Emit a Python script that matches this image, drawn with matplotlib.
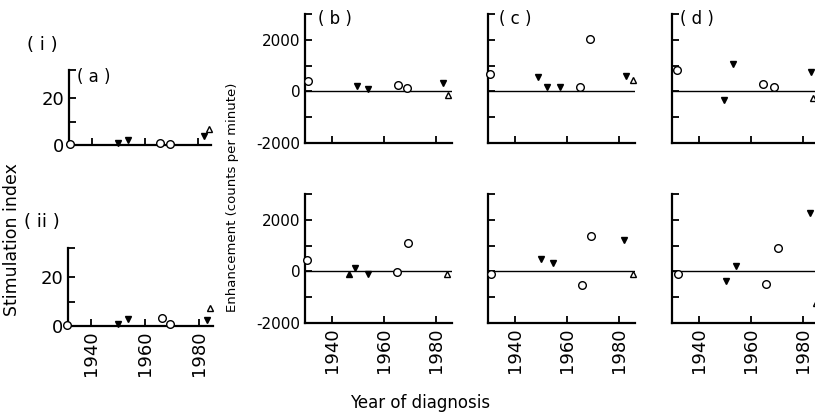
# Stimulation index and enhancement against year of diagnosis
# panels (a)/(ii) on the left, (b)-(d) in two rows

import matplotlib
matplotlib.use("Agg")
import matplotlib.pyplot as plt

# Step 1: values, one set of lists per panel
# kind: 'o' open circle, 'v' filled down triangle, '^' open up triangle, 'A' filled up triangle
a_year = [1931.5, 1949.8, 1953.6, 1965.7, 1969.4, 1982.3, 1984.2]
a_val = [0.4, 1.0, 2.0, 1.0, 0.5, 3.8, 6.8]
a_kind = ['o', 'v', 'v', 'o', 'o', 'v', '^']

ii_year = [1931.0, 1949.8, 1953.6, 1966.0, 1969.2, 1982.6, 1983.9]
ii_val = [0.4, 0.8, 3.0, 3.2, 0.9, 2.4, 7.2]
ii_kind = ['o', 'v', 'v', 'o', 'o', 'v', '^']

b1_year = [1930.8, 1949.6, 1953.8, 1965.4, 1968.8, 1982.7, 1984.6]
b1_val = [390, 190, 100, 230, 150, 330, -150]
b1_kind = ['o', 'v', 'v', 'o', 'o', 'v', '^']

c1_year = [1930.2, 1948.6, 1952.2, 1957.3, 1964.7, 1968.6, 1982.4, 1985.3]
c1_val = [670, 550, 160, 160, 160, 2040, 590, 430]
c1_kind = ['o', 'v', 'v', 'v', 'o', 'o', 'v', '^']

d1_year = [1931.5, 1949.6, 1953.0, 1964.6, 1968.8, 1983.1, 1983.8]
d1_val = [820, -350, 1060, 270, 160, 750, -270]
d1_kind = ['o', 'v', 'v', 'o', 'o', 'v', '^']

b2_year = [1930.4, 1946.6, 1948.9, 1953.9, 1965.0, 1969.2, 1984.2]
b2_val = [460, -115, 115, -115, -40, 1110, -115]
b2_kind = ['o', 'A', 'v', 'v', 'o', 'o', '^']

c2_year = [1930.6, 1949.8, 1954.5, 1965.5, 1969.0, 1981.6, 1985.3]
c2_val = [-120, 470, 310, -510, 1370, 1220, -120]
c2_kind = ['o', 'v', 'v', 'o', 'o', 'v', '^']

d2_year = [1931.8, 1950.2, 1954.1, 1965.7, 1970.4, 1982.5, 1984.9]
d2_val = [-120, -390, 200, -470, 900, 2270, -1220]
d2_kind = ['o', 'v', 'v', 'o', 'o', 'v', '^']

year_ticks = [1940, 1960, 1980]
year_labels = ['1940', '1960', '1980']

# marker kind -> (marker, face colour)
styles = {'o': ('o', 'white'), 'v': ('v', 'black'), '^': ('^', 'white'), 'A': ('^', 'black')}

W, H = 815, 417
fig = plt.figure(figsize=(W / 100, H / 100), dpi=100)


def make_axes(left, top, right, bottom):
    # pixel box -> figure fractions
    return fig.add_axes([left / W, 1 - bottom / H, (right - left) / W, (bottom - top) / H])


def draw_points(ax, years, vals, kinds):
    for k, (m, fc) in styles.items():
        xs = [y for y, kk in zip(years, kinds) if kk == k]
        vs = [v for v, kk in zip(vals, kinds) if kk == k]
        if xs:
            ax.plot(xs, vs, linestyle='none', marker=m, markersize=5.5 if m == 'o' else 5,
                    markerfacecolor=fc, markeredgecolor='black', markeredgewidth=1,
                    clip_on=False, zorder=3)


def style_axes(ax, show_x):
    for s in ['top', 'right']:
        ax.spines[s].set_visible(False)
    for s in ['left', 'bottom']:
        ax.spines[s].set_linewidth(1.6)
    ax.tick_params(which='both', direction='in', length=5, width=1.3)
    ax.set_xticks(year_ticks)
    if show_x:
        ax.set_xticklabels(year_labels, rotation=90, fontsize=13)
    else:
        ax.set_xticklabels([])


# Step 2: stimulation index panels
si_panels = [(a_year, a_val, a_kind, (69, 70, 211, 145), False),
             (ii_year, ii_val, ii_kind, (68, 248, 213, 326), True)]
for years, vals, kinds, box, show_x in si_panels:
    ax = make_axes(*box)
    draw_points(ax, years, vals, kinds)
    ax.set_xlim(1931.3, 1985)
    ax.set_ylim(0, 32)
    ax.set_yticks([0, 20])
    ax.set_yticklabels(['0', '20'], fontsize=13)
    ax.set_yticks([10, 32], minor=True)
    style_axes(ax, show_x)

# Step 3: enhancement panels
enh_panels = [(b1_year, b1_val, b1_kind, (305, 14, 452, 143), True, False),
              (c1_year, c1_val, c1_kind, (488, 14, 635, 143), False, False),
              (d1_year, d1_val, d1_kind, (672, 14, 819, 143), False, False),
              (b2_year, b2_val, b2_kind, (305, 194, 452, 323), True, True),
              (c2_year, c2_val, c2_kind, (488, 194, 635, 323), False, True),
              (d2_year, d2_val, d2_kind, (672, 194, 819, 323), False, True)]
for years, vals, kinds, box, show_y, show_x in enh_panels:
    ax = make_axes(*box)
    ax.axhline(0, color='black', linewidth=1)
    draw_points(ax, years, vals, kinds)
    ax.set_xlim(1929.5, 1986)
    ax.set_ylim(-2000, 3000)
    ax.set_yticks([-2000, 0, 2000])
    ax.set_yticks([-1000, 1000, 3000], minor=True)
    if show_y:
        ax.set_yticklabels(['-2000', '0', '2000'], fontsize=11)
    else:
        ax.set_yticklabels([])
    style_axes(ax, show_x)

# Step 4: panel letters and axis titles
fig.text(42 / W, 1 - 45 / H, '( i )', fontsize=13, ha='center', va='center')
fig.text(42 / W, 1 - 222 / H, '( ii )', fontsize=13, ha='center', va='center')
fig.text(77 / W, 1 - 77 / H, '( a )', fontsize=12, ha='left', va='center')
fig.text(318 / W, 1 - 19 / H, '( b )', fontsize=12, ha='left', va='center')
fig.text(499 / W, 1 - 19 / H, '( c )', fontsize=12, ha='left', va='center')
fig.text(680 / W, 1 - 19 / H, '( d )', fontsize=12, ha='left', va='center')

fig.text(12 / W, 1 - 240 / H, 'Stimulation index', rotation=90, fontsize=12.5,
         ha='center', va='center')
fig.text(232 / W, 1 - 197 / H, 'Enhancement (counts per minute)', rotation=90,
         fontsize=9.5, ha='center', va='center')
fig.text(420 / W, 1 - 403 / H, 'Year of diagnosis', fontsize=12, ha='center', va='center')

fig.savefig('out.png', dpi=100)
